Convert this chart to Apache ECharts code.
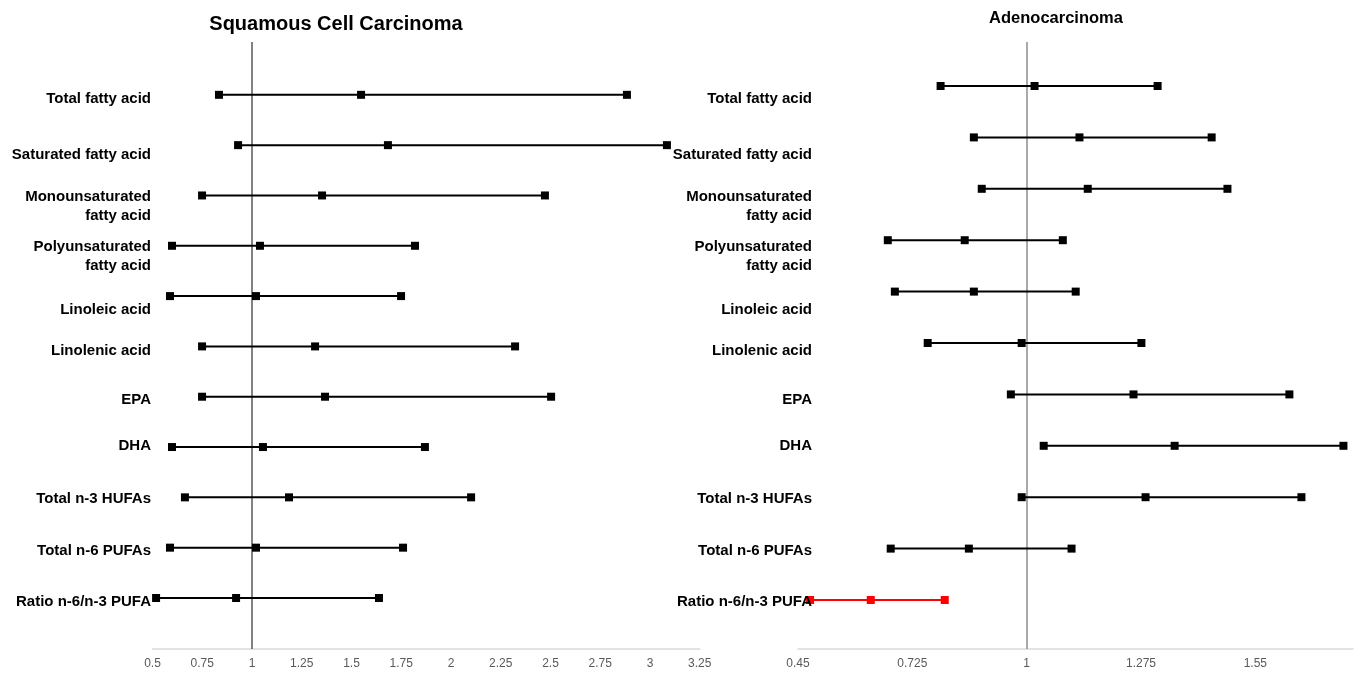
<!DOCTYPE html>
<html>
<head>
<meta charset="utf-8">
<script src="https://cdn.jsdelivr.net/npm/echarts@6/dist/echarts.min.js"></script>
<style>html,body{margin:0;padding:0;background:#fff}#chart{width:1363px;height:679px}</style>
</head>
<body>
<div id="chart"></div>
<script>
// ---- data ----
const categories = ['Total fatty acid', 'Saturated fatty acid', 'Monounsaturated\nfatty acid', 'Polyunsaturated\nfatty acid', 'Linoleic acid', 'Linolenic acid', 'EPA', 'DHA', 'Total n-3 HUFAs', 'Total n-6 PUFAs', 'Ratio n-6/n-3 PUFA'];
const panelTitles = ['Squamous Cell Carcinoma', 'Adenocarcinoma'];

const sccLower = [0.834, 0.93, 0.749, 0.598, 0.588, 0.749, 0.749, 0.598, 0.663, 0.588, 0.518];
const sccOR    = [1.548, 1.683, 1.352, 1.040, 1.020, 1.317, 1.367, 1.055, 1.186, 1.020, 0.920];
const sccUpper = [2.884, 3.085, 2.472, 1.819, 1.749, 2.322, 2.503, 1.869, 2.101, 1.759, 1.638];

const adcLower = [0.793, 0.873, 0.892, 0.666, 0.683, 0.762, 0.962, 1.041, 0.988, 0.673, 0.479];
const adcOR    = [1.019, 1.127, 1.147, 0.851, 0.873, 0.988, 1.257, 1.356, 1.286, 0.861, 0.625];
const adcUpper = [1.315, 1.445, 1.483, 1.087, 1.118, 1.276, 1.632, 1.762, 1.661, 1.108, 0.803];
const adcHighlight = ['Ratio n-6/n-3 PUFA'];

const sccTicks = [0.5, 0.75, 1, 1.25, 1.5, 1.75, 2, 2.25, 2.5, 2.75, 3, 3.25];
const adcTicks = [0.45, 0.725, 1, 1.275, 1.55];

// ---- layout ----
const labelCenterY = [99, 155, 206.5, 256.5, 310, 350.5, 400, 446, 499, 551, 602];
const FONT = '"Liberation Sans", Arial, sans-serif';

const chart = echarts.init(document.getElementById('chart'));

function rowSeries(lower, or, upper, gridIdx, highlight, refColor) {
  const out = [];
  categories.forEach((c, i) => {
    const y = categories.length - i;
    const red = highlight.indexOf(c) >= 0;
    const col = red ? '#ff0000' : '#000000';
    const s = {
      type: 'line', xAxisIndex: gridIdx, yAxisIndex: gridIdx,
      data: [[lower[i], y], [or[i], y], [upper[i], y]],
      symbol: 'rect', symbolSize: 8, showAllSymbol: true,
      lineStyle: { color: col, width: 2 },
      itemStyle: { color: col },
      emphasis: { disabled: true }, silent: true, z: 3
    };
    if (i === 0) {
      s.markLine = {
        silent: true, symbol: 'none', label: { show: false },
        lineStyle: { color: refColor, width: 1.5, type: 'solid' },
        data: [{ xAxis: 1 }], z: 1
      };
    }
    out.push(s);
  });
  return out;
}

const graphics = [];
[151, 812].forEach(x => {
  categories.forEach((c, i) => {
    graphics.push({
      type: 'text', x: x, y: labelCenterY[i], silent: true, z: 10,
      style: { text: c, align: 'right', verticalAlign: 'middle', fontFamily: FONT, fontWeight: 'bold', fontSize: 15, lineHeight: 19, fill: '#000' }
    });
  });
});

function xAxisOf(gridIdx, min, max, ticks) {
  return {
    type: 'value', gridIndex: gridIdx, min: min, max: max,
    axisLine: { show: true, lineStyle: { color: '#d9d9d9', width: 1.5 } },
    axisTick: { show: false },
    splitLine: { show: false },
    axisLabel: { customValues: ticks, color: '#595959', fontSize: 12, fontFamily: FONT, margin: 9, formatter: v => String(v) }
  };
}
function yAxisOf(gridIdx, min, max) {
  return { type: 'value', gridIndex: gridIdx, min: min, max: max, show: false, splitLine: { show: false } };
}

chart.setOption({
  animation: false,
  backgroundColor: '#fff',
  title: [
    { text: panelTitles[0], left: 331, top: 9, textAlign: 'center', textStyle: { fontFamily: FONT, fontWeight: 'bold', fontSize: 20, color: '#000' } },
    { text: panelTitles[1], left: 1051, top: 5, textAlign: 'center', textStyle: { fontFamily: FONT, fontWeight: 'bold', fontSize: 16.5, color: '#000' } }
  ],
  grid: [
    { left: 152.5, right: 663.25, top: 42, bottom: 30 },
    { left: 798, right: 10, top: 42, bottom: 30 }
  ],
  xAxis: [xAxisOf(0, 0.5, 3.25, sccTicks), xAxisOf(1, 0.45, 1.785, adcTicks)],
  yAxis: [yAxisOf(0, -0.014, 12.05), yAxisOf(1, 0.047, 11.856)],
  graphic: graphics,
  series: [].concat(
    rowSeries(sccLower, sccOR, sccUpper, 0, [], '#595959'),
    rowSeries(adcLower, adcOR, adcUpper, 1, adcHighlight, '#8c8c8c')
  )
});
</script>
</body>
</html>
